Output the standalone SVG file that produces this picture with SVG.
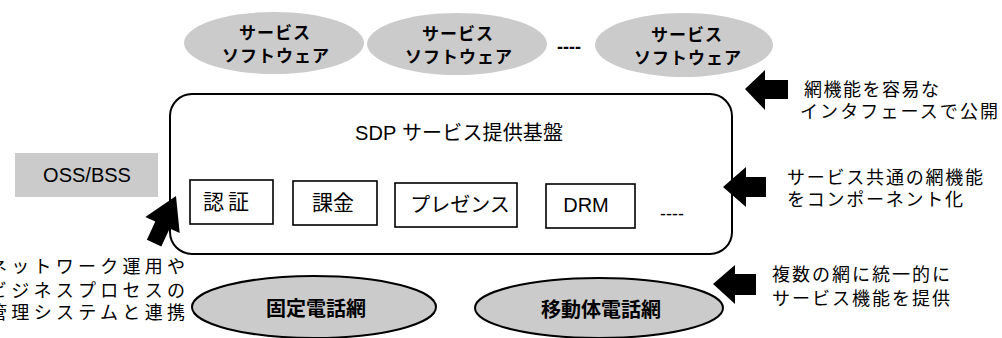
<svg xmlns="http://www.w3.org/2000/svg" width="1002" height="338" viewBox="0 0 1002 338">
<style>
text{font-family:"Liberation Sans","Noto Sans CJK JP",sans-serif;fill:#000;dominant-baseline:central}
.jp{font-family:"Noto Sans CJK JP","Liberation Sans",sans-serif}
.b{font-weight:bold}
.n{font-size:18px}
.soft{fill:#cbcbcb;stroke:none}
.net{fill:#cbcbcb;stroke:#000;stroke-width:2}
.box{fill:#fff;stroke:#000;stroke-width:1.6}
.arr{fill:#000}
</style>
<rect width="1002" height="338" fill="#fff"/>
<g id="soft1">
<ellipse class="soft" cx="274" cy="43" rx="90" ry="31"/>
<text class="jp b" x="275" y="31" font-size="17" text-anchor="middle" letter-spacing="1">サービス</text>
<text class="jp b" x="276" y="54" font-size="17" text-anchor="middle" letter-spacing="1">ソフトウェア</text>
</g>
<g id="soft2">
<ellipse class="soft" cx="457" cy="44" rx="90" ry="31"/>
<text class="jp b" x="458" y="32" font-size="17" text-anchor="middle" letter-spacing="1">サービス</text>
<text class="jp b" x="459" y="55" font-size="17" text-anchor="middle" letter-spacing="1">ソフトウェア</text>
</g>
<text class="b" x="569" y="47" font-size="18" text-anchor="middle">----</text>
<g id="soft3">
<ellipse class="soft" cx="684" cy="45" rx="89" ry="32"/>
<text class="jp b" x="687" y="33" font-size="17" text-anchor="middle" letter-spacing="1">サービス</text>
<text class="jp b" x="688" y="56" font-size="17" text-anchor="middle" letter-spacing="1">ソフトウェア</text>
</g>
<g id="oss">
<rect class="soft" x="15" y="153" width="143" height="44"/>
<text x="87" y="175" font-size="20" text-anchor="middle">OSS/BSS</text>
</g>
<g id="sdp">
<rect x="170" y="94" width="562" height="160" rx="22" fill="#fff" stroke="#000" stroke-width="2"/>
<text x="355" y="133" font-size="20" textLength="208" lengthAdjust="spacing">SDP サービス提供基盤</text>
</g>
<g id="auth">
<rect class="box" x="190" y="180" width="83" height="44"/>
<text class="jp" x="228" y="200" font-size="21" text-anchor="middle" letter-spacing="4">認証</text>
</g>
<g id="billing">
<rect class="box" x="293" y="181" width="84" height="44"/>
<text class="jp" x="333" y="201" font-size="21" text-anchor="middle">課金</text>
</g>
<g id="presence">
<rect class="box" x="395" y="183" width="122" height="44"/>
<text class="jp" x="460" y="203" font-size="20" text-anchor="middle">プレゼンス</text>
</g>
<g id="drm">
<rect class="box" x="546" y="184" width="89" height="44"/>
<text x="586" y="205" font-size="20" text-anchor="middle">DRM</text>
</g>
<text x="672" y="214" font-size="18" text-anchor="middle">----</text>
<g id="fixed">
<ellipse class="net" cx="314" cy="307" rx="122" ry="31"/>
<text class="jp b" x="316" y="307" font-size="20" text-anchor="middle">固定電話網</text>
</g>
<g id="mobile">
<ellipse class="net" cx="599" cy="308" rx="124" ry="30"/>
<text class="jp b" x="601" y="308" font-size="20" text-anchor="middle">移動体電話網</text>
</g>
<g id="connectors">
<polygon class="arr" points="176,196 179.7,233 169.7,228.4 161.3,246.5 146.9,239.7 155.3,221.6 145.3,217"/>
<polygon class="arr" points="745,89 765,70 765,80 788,80 788,99 765,99 765,110"/>
<polygon class="arr" points="723,187 746,167 746,177 766,177 766,197 746,197 746,207"/>
<polygon class="arr" points="713,284 735,265 735,274 756,274 756,295 735,295 735,304"/>
</g>
<g id="notes">
<text class="jp n" x="804" y="88" textLength="135" lengthAdjust="spacing">網機能を容易な</text>
<text class="jp n" x="800" y="110" textLength="198" lengthAdjust="spacing">インタフェースで公開</text>
<text class="jp n" x="787" y="176" textLength="196" lengthAdjust="spacing">サービス共通の網機能</text>
<text class="jp n" x="787" y="198" textLength="176" lengthAdjust="spacing">をコンポーネント化</text>
<text class="jp n" x="772" y="273" textLength="178" lengthAdjust="spacing">複数の網に統一的に</text>
<text class="jp n" x="772" y="297" textLength="178" lengthAdjust="spacing">サービス機能を提供</text>
<text class="jp n" x="-11" y="265" textLength="196" lengthAdjust="spacing">ネットワーク運用や</text>
<text class="jp n" x="-11" y="289" textLength="196" lengthAdjust="spacing">ビジネスプロセスの</text>
<text class="jp n" x="-11" y="311" textLength="196" lengthAdjust="spacing">管理システムと連携</text>
</g>
</svg>
